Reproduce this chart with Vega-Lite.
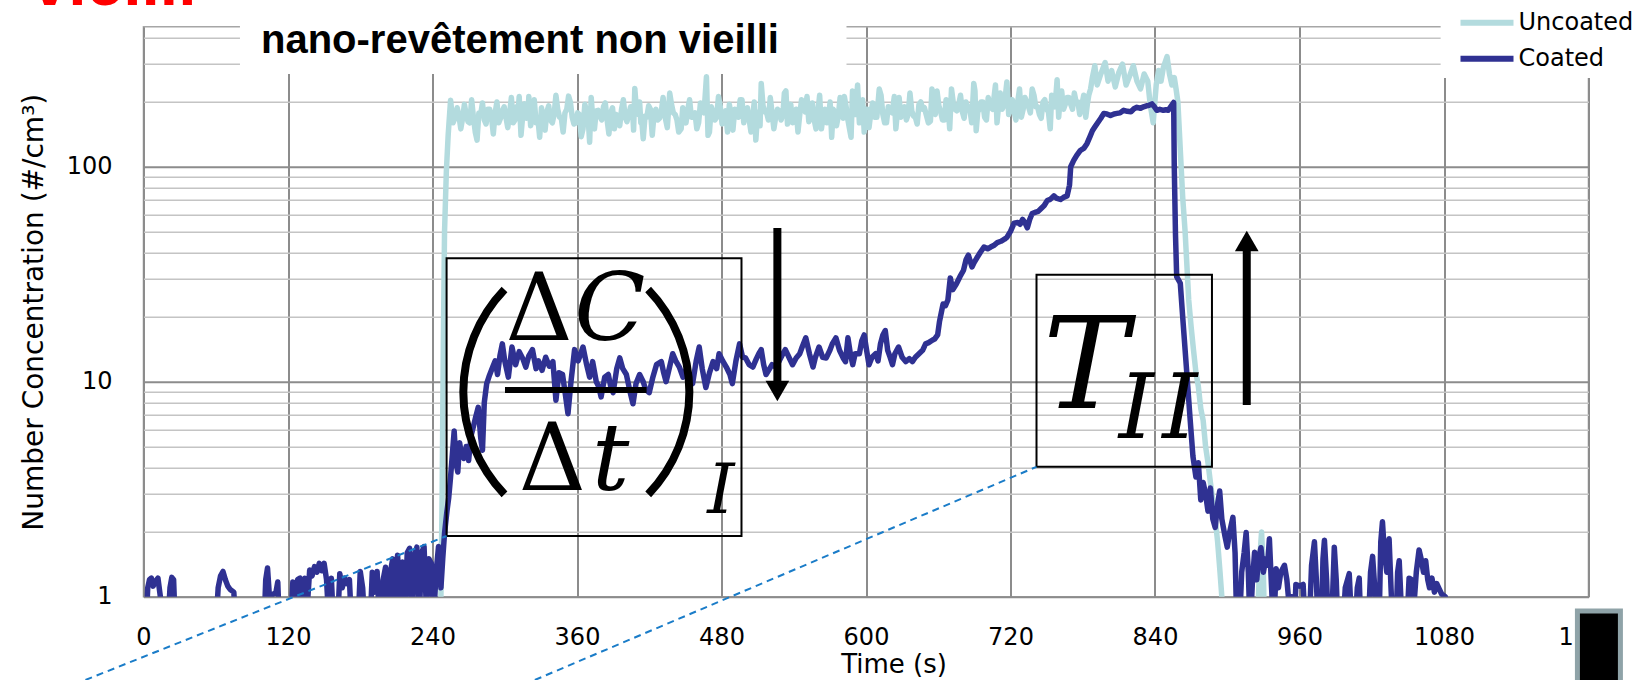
{
  "$schema": "https://vega.github.io/schema/vega-lite/v6.json",
  "width": 1445,
  "height": 570,
  "autosize": {"type": "none"},
  "padding": {"left": 143.5, "top": 26.7, "right": 56.5, "bottom": 83.3},
  "background": "white",
  "config": {"view": {"stroke": "#a6a6a6", "strokeWidth": 1.6}},
  "datasets": {
    "uncoated": [
      {"time":245,"conc":0.7},{"time":247,"conc":1.0},{"time":248,"conc":3},{"time":249,"conc":15},{"time":250,"conc":50},{"time":251.5,"conc":95},{"time":253,"conc":140},{"time":255,"conc":204},
      {"time":257,"conc":160},{"time":259,"conc":170},{"time":262,"conc":172},{"time":265,"conc":168},{"time":268,"conc":175},{"time":271,"conc":160},{"time":274,"conc":170},{"time":277,"conc":133},{"time":280,"conc":175},{"time":283,"conc":165},{"time":286,"conc":185},{"time":289,"conc":170},{"time":292,"conc":178},{"time":295,"conc":160},{"time":298,"conc":182},{"time":301,"conc":170},{"time":304,"conc":176},{"time":307,"conc":160},{"time":310,"conc":190},{"time":312,"conc":212},{"time":315,"conc":175},{"time":318,"conc":168},{"time":320,"conc":212},{"time":323,"conc":170},{"time":326,"conc":160},{"time":329,"conc":137},{"time":332,"conc":170},{"time":335,"conc":180},{"time":338,"conc":165},{"time":341,"conc":175},{"time":344,"conc":185},{"time":347,"conc":168},{"time":350,"conc":178},{"time":353,"conc":213},{"time":356,"conc":170},{"time":359,"conc":160},{"time":362,"conc":175},{"time":365,"conc":150},{"time":368,"conc":180},{"time":370.5,"conc":130},{"time":373,"conc":170},{"time":376,"conc":182},{"time":379,"conc":172},{"time":382,"conc":190},{"time":385,"conc":165},{"time":388,"conc":178},{"time":391,"conc":150},{"time":394,"conc":172},{"time":397,"conc":185},{"time":400,"conc":170},{"time":403,"conc":175},{"time":406,"conc":190},{"time":408,"conc":231},{"time":411,"conc":175},{"time":413,"conc":160},{"time":415,"conc":135},{"time":418,"conc":170},{"time":421,"conc":185},{"time":424,"conc":176},{"time":427,"conc":165},{"time":430,"conc":180},{"time":433,"conc":172},{"time":437,"conc":220},{"time":440,"conc":178},{"time":443,"conc":165},{"time":446.5,"conc":150},{"time":449,"conc":175},{"time":452,"conc":185},{"time":455,"conc":170},{"time":458,"conc":178},{"time":461,"conc":160},{"time":464,"conc":185},{"time":467.5,"conc":262},{"time":470,"conc":145},{"time":473,"conc":180},{"time":476,"conc":170},{"time":479,"conc":190},{"time":482,"conc":168},{"time":485,"conc":145},{"time":488,"conc":175},{"time":491,"conc":185},{"time":494,"conc":170},{"time":497,"conc":205},{"time":500,"conc":180},{"time":503,"conc":165},{"time":506,"conc":172},{"time":508.5,"conc":133},{"time":511,"conc":180},{"time":513,"conc":244},{"time":516,"conc":180},{"time":519,"conc":165},{"time":522,"conc":178},{"time":525,"conc":170},{"time":528,"conc":182},{"time":531,"conc":175},{"time":533.5,"conc":225},{"time":536,"conc":172},{"time":539,"conc":160},{"time":542,"conc":185},{"time":545,"conc":175},{"time":548,"conc":190},{"time":551,"conc":212},{"time":554,"conc":170},{"time":557,"conc":165},{"time":560,"conc":178},{"time":563,"conc":150},{"time":566,"conc":185},{"time":569,"conc":175},{"time":571.5,"conc":137},{"time":574,"conc":180},{"time":577,"conc":172},{"time":580,"conc":190},{"time":582,"conc":212},{"time":585,"conc":165},{"time":587.6,"conc":137},{"time":590,"conc":175},{"time":593,"conc":240},{"time":596,"conc":170},{"time":598.5,"conc":145},{"time":601,"conc":185},{"time":604,"conc":178},{"time":607,"conc":170},{"time":611,"conc":230},{"time":614,"conc":175},{"time":617,"conc":160},{"time":620,"conc":185},{"time":623.5,"conc":212},{"time":626,"conc":178},{"time":629,"conc":170},{"time":632,"conc":190},{"time":635,"conc":175},{"time":638,"conc":182},{"time":641,"conc":170},{"time":644,"conc":195},{"time":647,"conc":185},{"time":650,"conc":175},{"time":653.5,"conc":163},{"time":656,"conc":190},{"time":659,"conc":225},{"time":662,"conc":180},{"time":665,"conc":165},{"time":668,"conc":200},{"time":671,"conc":230},{"time":674,"conc":185},{"time":677,"conc":195},{"time":680,"conc":180},{"time":683,"conc":200},{"time":686,"conc":190},{"time":689.5,"conc":244},{"time":691.5,"conc":147},{"time":694,"conc":185},{"time":697,"conc":200},{"time":700,"conc":165},{"time":703,"conc":190},{"time":707.5,"conc":240},{"time":710,"conc":190},{"time":713,"conc":185},{"time":717,"conc":248},{"time":720,"conc":195},{"time":723,"conc":180},{"time":726,"conc":200},{"time":729,"conc":170},{"time":732,"conc":210},{"time":735,"conc":190},{"time":738,"conc":230},{"time":741,"conc":190},{"time":744,"conc":175},{"time":747,"conc":200},{"time":750,"conc":185},{"time":753,"conc":150},{"time":755.5,"conc":200},{"time":758.7,"conc":254},{"time":761,"conc":200},{"time":764,"conc":185},{"time":767,"conc":210},{"time":770,"conc":195},{"time":773,"conc":220},{"time":776,"conc":200},{"time":779,"conc":190},{"time":782.5,"conc":170},{"time":785,"conc":215},{"time":788,"conc":260},{"time":790,"conc":295},{"time":792,"conc":240},{"time":795,"conc":270},{"time":798.6,"conc":305},{"time":801,"conc":250},{"time":804,"conc":280},{"time":807,"conc":235},{"time":810,"conc":275},{"time":813,"conc":300},{"time":816,"conc":240},{"time":819,"conc":265},{"time":822,"conc":295},{"time":825,"conc":250},{"time":828,"conc":230},{"time":831,"conc":270},{"time":834,"conc":250},{"time":836,"conc":195},{"time":838.5,"conc":160},{"time":841,"conc":240},{"time":843,"conc":280},{"time":845,"conc":250},{"time":847,"conc":290},{"time":850,"conc":325},{"time":852,"conc":270},{"time":854,"conc":240},{"time":856,"conc":260},{"time":857.5,"conc":230},{"time":859,"conc":200},{"time":861,"conc":120},{"time":863,"conc":72},{"time":865,"conc":50},{"time":868,"conc":24},{"time":870,"conc":18},{"time":872,"conc":14},{"time":874,"conc":11},{"time":876,"conc":9.5},{"time":878,"conc":7.5},{"time":880,"conc":6.6},{"time":882,"conc":5},{"time":884,"conc":4.2},{"time":886,"conc":3.4},{"time":888,"conc":2.8},{"time":890,"conc":2.3},{"time":892,"conc":1.8},{"time":894,"conc":1.3},{"time":895.5,"conc":1.0},{"time":897,"conc":0.7},{"time":925,"conc":0.7},{"time":927,"conc":1.5},{"time":928.5,"conc":2.0},{"time":930,"conc":1.3},{"time":931,"conc":0.7},
      {"time":260.5,"conc":188},{"time":263.5,"conc":150},{"time":266.5,"conc":195},{"time":269.5,"conc":162},{"time":272.5,"conc":205},{"time":275.5,"conc":145},{"time":278.5,"conc":178},{"time":281.5,"conc":198},{"time":284.5,"conc":158},{"time":287.5,"conc":185},{"time":290.5,"conc":142},{"time":293.5,"conc":200},{"time":296.5,"conc":168},{"time":299.5,"conc":190},{"time":302.5,"conc":152},{"time":305.5,"conc":210},{"time":308.5,"conc":165},{"time":311.2,"conc":182},{"time":313.5,"conc":140},{"time":316.5,"conc":196},{"time":319.2,"conc":172},{"time":321.5,"conc":155},{"time":324.5,"conc":205},{"time":327.5,"conc":168},{"time":330.5,"conc":188},{"time":333.5,"conc":148},{"time":336.5,"conc":192},{"time":339.5,"conc":160},{"time":342.5,"conc":215},{"time":345.5,"conc":170},
      {"time":348.5,"conc":145},{"time":351.5,"conc":185},{"time":354.5,"conc":200},{"time":357.5,"conc":158},{"time":360.5,"conc":178},{"time":363.5,"conc":138},{"time":366.5,"conc":195},{"time":369.2,"conc":170},{"time":371.8,"conc":210},{"time":374.5,"conc":150},{"time":377.5,"conc":183},{"time":380.5,"conc":165},{"time":383.5,"conc":198},{"time":386.5,"conc":142},{"time":389.5,"conc":188},{"time":392.5,"conc":175},{"time":395.5,"conc":155},{"time":398.5,"conc":205},{"time":401.5,"conc":162},{"time":404.5,"conc":190},{"time":407,"conc":148},{"time":409.5,"conc":180},{"time":412,"conc":200},{"time":414,"conc":158},{"time":416.5,"conc":172},{"time":419.5,"conc":192},{"time":422.5,"conc":140},{"time":425.5,"conc":185},{"time":428.5,"conc":168},{"time":431.5,"conc":210},
      {"time":435,"conc":152},{"time":438.5,"conc":195},{"time":441.5,"conc":175},{"time":444.5,"conc":145},{"time":447.8,"conc":188},{"time":450.5,"conc":160},{"time":453.5,"conc":205},{"time":456.5,"conc":170},{"time":459.5,"conc":150},{"time":462.5,"conc":198},{"time":465.5,"conc":178},{"time":468.8,"conc":140},{"time":471.5,"conc":190},{"time":474.5,"conc":165},{"time":477.5,"conc":212},{"time":480.5,"conc":158},{"time":483.5,"conc":182},{"time":486.5,"conc":195},{"time":489.5,"conc":148},{"time":492.5,"conc":175},{"time":495.5,"conc":205},{"time":498.5,"conc":160},{"time":501.5,"conc":188},{"time":504.5,"conc":145},{"time":507.2,"conc":200},{"time":509.8,"conc":170},{"time":512,"conc":155},{"time":514.5,"conc":192},{"time":517.5,"conc":178},{"time":520.5,"conc":210},
      {"time":523.5,"conc":150},{"time":526.5,"conc":185},{"time":529.5,"conc":165},{"time":532.2,"conc":220},{"time":534.8,"conc":158},{"time":537.5,"conc":195},{"time":540.5,"conc":172},{"time":543.5,"conc":145},{"time":546.5,"conc":205},{"time":549.5,"conc":180},{"time":552.5,"conc":162},{"time":555.5,"conc":198},{"time":558.5,"conc":150},{"time":561.5,"conc":215},{"time":564.5,"conc":175},{"time":567.5,"conc":160},{"time":570.2,"conc":200},{"time":572.8,"conc":185},{"time":575.5,"conc":155},{"time":578.5,"conc":210},{"time":581,"conc":168},{"time":583.5,"conc":190},{"time":586.3,"conc":150},{"time":588.8,"conc":225},{"time":591.5,"conc":175},{"time":594.5,"conc":160},{"time":597.2,"conc":205},{"time":599.8,"conc":185},{"time":602.5,"conc":152},{"time":605.5,"conc":198},
      {"time":609,"conc":170},{"time":612.5,"conc":215},{"time":615.5,"conc":160},{"time":618.5,"conc":190},{"time":621.8,"conc":178},{"time":624.8,"conc":150},{"time":627.5,"conc":210},{"time":630.5,"conc":185},{"time":633.5,"conc":165},{"time":636.5,"conc":220},{"time":639.5,"conc":172},{"time":642.5,"conc":158},{"time":645.5,"conc":200},{"time":648.5,"conc":188},{"time":651.8,"conc":160},{"time":654.8,"conc":230},{"time":657.5,"conc":175},{"time":660.5,"conc":192},{"time":663.5,"conc":165},{"time":666.5,"conc":205},{"time":669.5,"conc":150},{"time":672.5,"conc":198},{"time":675.5,"conc":182},{"time":678.5,"conc":215},{"time":681.5,"conc":168},{"time":684.5,"conc":190},{"time":687.8,"conc":160},{"time":690.5,"conc":225},{"time":692.8,"conc":180},{"time":695.5,"conc":200},
      {"time":698.5,"conc":170},{"time":701.5,"conc":210},{"time":705.2,"conc":185},{"time":708.8,"conc":160},{"time":711.5,"conc":220},{"time":715,"conc":195},{"time":718.5,"conc":175},{"time":721.5,"conc":205},{"time":724.5,"conc":165},{"time":727.5,"conc":230},{"time":730.5,"conc":185},{"time":733.5,"conc":200},{"time":736.5,"conc":178},{"time":739.5,"conc":215},{"time":742.5,"conc":190},{"time":745.5,"conc":168},{"time":748.5,"conc":205},{"time":751.5,"conc":180},{"time":754.2,"conc":215},{"time":757,"conc":190},{"time":760,"conc":170},{"time":762.5,"conc":225},{"time":765.5,"conc":195},{"time":768.5,"conc":210},{"time":771.5,"conc":185},{"time":774.5,"conc":200},{"time":777.5,"conc":175},{"time":780.8,"conc":215},{"time":783.8,"conc":195},{"time":786.5,"conc":230}
    ],
    "coated": [
      {"time":0,"conc":0.7},{"time":2,"conc":0.7},{"time":3.5,"conc":1.1},{"time":5,"conc":1.2},{"time":6.5,"conc":1.22},{"time":8,"conc":1.12},{"time":10,"conc":1.18},{"time":12,"conc":1.22},{"time":14,"conc":1.0},{"time":16,"conc":0.7},{"time":20,"conc":0.7},{"time":22,"conc":1.1},{"time":23.5,"conc":1.23},{"time":25,"conc":1.2},{"time":26.5,"conc":0.7},{"time":60,"conc":0.7},{"time":62,"conc":1.1},{"time":64,"conc":1.25},{"time":66,"conc":1.31},{"time":68,"conc":1.2},{"time":70,"conc":1.12},{"time":72,"conc":1.08},{"time":75,"conc":1.05},{"time":77,"conc":0.7},{"time":100,"conc":0.7},{"time":101.5,"conc":1.2},{"time":103,"conc":1.36},{"time":104.5,"conc":1.02},{"time":107,"conc":1.02},{"time":110,"conc":1.05},{"time":111.5,"conc":1.17},{"time":113,"conc":0.7},{"time":122,"conc":0.7},{"time":124,"conc":1.17},{"time":126,"conc":0.8},{"time":128,"conc":1.2},{"time":130,"conc":1.22},{"time":132,"conc":0.75},{"time":134,"conc":1.22},{"time":136,"conc":0.9},{"time":138,"conc":1.33},{"time":140,"conc":1.25},{"time":142,"conc":1.38},{"time":144,"conc":1.3},{"time":146,"conc":1.43},{"time":148,"conc":1.32},{"time":150,"conc":1.43},{"time":152,"conc":1.2},{"time":154,"conc":0.75},{"time":156,"conc":1.22},{"time":158,"conc":0.7},{"time":161,"conc":0.7},{"time":163,"conc":1.28},{"time":165,"conc":1.1},{"time":167,"conc":1.22},{"time":169,"conc":1.15},{"time":171,"conc":1.2},{"time":173,"conc":0.7},{"time":178,"conc":0.7},{"time":180,"conc":1.31},{"time":182,"conc":1.1},{"time":184,"conc":0.7},{"time":188,"conc":0.7},{"time":190,"conc":1.3},{"time":192,"conc":1.05},{"time":194,"conc":1.31},{"time":196,"conc":0.75},{"time":199,"conc":1.2},{"time":201,"conc":1.37},{"time":203,"conc":0.8},{"time":205,"conc":1.3},{"time":207,"conc":1.5},{"time":209,"conc":0.8},{"time":211,"conc":1.56},{"time":213,"conc":1.0},{"time":215,"conc":1.45},{"time":217,"conc":0.75},{"time":219,"conc":1.6},{"time":221,"conc":1.68},{"time":223,"conc":0.8},{"time":225,"conc":1.55},{"time":227,"conc":1.7},{"time":229,"conc":0.8},{"time":231,"conc":1.6},{"time":233,"conc":1.71},{"time":235,"conc":0.85},{"time":237,"conc":1.5},{"time":239,"conc":1.43},{"time":241,"conc":0.8},{"time":243,"conc":1.3},{"time":245,"conc":1.71},{"time":247,"conc":1.1},{"time":248.5,"conc":1.5},{"time":250,"conc":1.97},{"time":252,"conc":2.5},{"time":253.5,"conc":2.9},{"time":255,"conc":3.6},{"time":256.5,"conc":4.6},{"time":258,"conc":5.9},{"time":259.5,"conc":4.2},{"time":261,"conc":3.8},{"time":262.5,"conc":5.2},{"time":264,"conc":4.6},{"time":266,"conc":4.4},{"time":268,"conc":5.0},{"time":270,"conc":4.3},{"time":272,"conc":5.6},{"time":274,"conc":6.2},{"time":276,"conc":6.9},{"time":278,"conc":7.6},{"time":280,"conc":5.5},{"time":281.5,"conc":4.8},{"time":283,"conc":8.0},{"time":285,"conc":9.8},{"time":287,"conc":10.6},{"time":290,"conc":11.7},{"time":292,"conc":12.5},{"time":294,"conc":10.8},{"time":296,"conc":13.2},{"time":298,"conc":15.0},{"time":300,"conc":12.5},{"time":303,"conc":10.5},{"time":306,"conc":14.5},{"time":309,"conc":12.0},{"time":312,"conc":13.8},{"time":315,"conc":12.8},{"time":317.5,"conc":11.7},{"time":320,"conc":13.2},{"time":323,"conc":14.1},{"time":326,"conc":11.5},{"time":328,"conc":12.5},{"time":331,"conc":11.3},{"time":334,"conc":13.0},{"time":337,"conc":11.8},{"time":340,"conc":12.4},{"time":342.5,"conc":8.2},{"time":345,"conc":11.0},{"time":348,"conc":10.8},{"time":350,"conc":9.0},{"time":352.5,"conc":7.1},{"time":355,"conc":10.0},{"time":358,"conc":14.1},{"time":361,"conc":12.5},{"time":365,"conc":14.5},{"time":368,"conc":12.0},{"time":370.5,"conc":10.5},{"time":373,"conc":12.4},{"time":376,"conc":10.0},{"time":378,"conc":9.5},{"time":380,"conc":8.5},{"time":383,"conc":10.5},{"time":386,"conc":10.8},{"time":388,"conc":9.5},{"time":390,"conc":8.9},{"time":393,"conc":11.5},{"time":395.5,"conc":12.9},{"time":398,"conc":11.5},{"time":401,"conc":10.8},{"time":404,"conc":9.0},{"time":406.5,"conc":7.9},{"time":409,"conc":9.8},{"time":412,"conc":10.8},{"time":415,"conc":10.0},{"time":417,"conc":9.2},{"time":420,"conc":8.9},{"time":423,"conc":10.5},{"time":426,"conc":12.0},{"time":430,"conc":12.4},{"time":432,"conc":11.0},{"time":434,"conc":10.0},{"time":437,"conc":11.8},{"time":439.5,"conc":13.5},{"time":442,"conc":12.5},{"time":445,"conc":11.7},{"time":448,"conc":10.5},{"time":451,"conc":11.5},{"time":453,"conc":10.0},{"time":456,"conc":9.8},{"time":459,"conc":12.5},{"time":461.5,"conc":14.5},{"time":464,"conc":11.5},{"time":467,"conc":9.4},{"time":470,"conc":11.0},{"time":473,"conc":12.4},{"time":476,"conc":11.5},{"time":478,"conc":13.5},{"time":481,"conc":12.5},{"time":484,"conc":11.7},{"time":487,"conc":10.8},{"time":489,"conc":9.8},{"time":492,"conc":12.5},{"time":495,"conc":15.0},{"time":497.5,"conc":13.0},{"time":500,"conc":12.9},{"time":503,"conc":12.0},{"time":506,"conc":11.7},{"time":509,"conc":12.8},{"time":511,"conc":13.5},{"time":513,"conc":14.1},{"time":515,"conc":12.0},{"time":517,"conc":10.8},{"time":520,"conc":11.5},{"time":522,"conc":12.0},{"time":525,"conc":11.7},{"time":528,"conc":12.5},{"time":531,"conc":13.5},{"time":533,"conc":14.1},{"time":536,"conc":13.0},{"time":539,"conc":12.0},{"time":542,"conc":12.9},{"time":545,"conc":13.5},{"time":547,"conc":14.5},{"time":550,"conc":16.0},{"time":553,"conc":13.5},{"time":556,"conc":11.7},{"time":558,"conc":13.0},{"time":561,"conc":14.5},{"time":564,"conc":13.0},{"time":567,"conc":12.9},{"time":570,"conc":14.0},{"time":572,"conc":15.0},{"time":575,"conc":16.0},{"time":578,"conc":14.0},{"time":581,"conc":12.9},{"time":583,"conc":12.4},{"time":585,"conc":16.0},{"time":587,"conc":13.5},{"time":589,"conc":12.0},{"time":591,"conc":13.5},{"time":594.5,"conc":13.5},{"time":596.5,"conc":15.5},{"time":598.5,"conc":16.5},{"time":600.5,"conc":14.0},{"time":602.5,"conc":12.0},{"time":605,"conc":13.0},{"time":608,"conc":13.5},{"time":610,"conc":12.5},{"time":612,"conc":15.0},{"time":614,"conc":16.5},{"time":616,"conc":17.3},{"time":618,"conc":14.0},{"time":620,"conc":13.0},{"time":622,"conc":12.0},{"time":624,"conc":13.5},{"time":627,"conc":14.5},{"time":630,"conc":13.0},{"time":633,"conc":12.4},{"time":636,"conc":12.8},{"time":638.5,"conc":12.4},{"time":641,"conc":13.0},{"time":644,"conc":13.5},{"time":647,"conc":14.0},{"time":649.5,"conc":15.0},{"time":652,"conc":15.2},{"time":655,"conc":15.6},{"time":657,"conc":15.8},{"time":659.5,"conc":16.5},{"time":661,"conc":19.0},{"time":662.5,"conc":20.9},{"time":664,"conc":23.0},{"time":666,"conc":22.6},{"time":668,"conc":24.0},{"time":670,"conc":30.4},{"time":672,"conc":26.8},{"time":675,"conc":28.5},{"time":678,"conc":30.8},{"time":681,"conc":33.0},{"time":683,"conc":36.8},{"time":685,"conc":38.8},{"time":688,"conc":34.2},{"time":690,"conc":36.0},{"time":692,"conc":37.6},{"time":695,"conc":40.0},{"time":698,"conc":42.3},{"time":701,"conc":41.5},{"time":703.5,"conc":42.3},{"time":706,"conc":43.0},{"time":709,"conc":44.4},{"time":712,"conc":45.0},{"time":715,"conc":46.0},{"time":717,"conc":46.9},{"time":720,"conc":50.0},{"time":723,"conc":54.6},{"time":726,"conc":55.0},{"time":728,"conc":54.0},{"time":730,"conc":56.9},{"time":732,"conc":55.0},{"time":734,"conc":52.0},{"time":736,"conc":57.0},{"time":738,"conc":60.6},{"time":741,"conc":61.5},{"time":743,"conc":62.0},{"time":745,"conc":63.6},{"time":748,"conc":66.0},{"time":750.5,"conc":69.6},{"time":753,"conc":70.5},{"time":756,"conc":73.2},{"time":758,"conc":71.5},{"time":761.5,"conc":70.4},{"time":764,"conc":72.0},{"time":767,"conc":73.2},{"time":769,"conc":82.0},{"time":770,"conc":100},{"time":772.5,"conc":107},{"time":775,"conc":113},{"time":778,"conc":119},{"time":781,"conc":122},{"time":783.5,"conc":128},{"time":786,"conc":138},{"time":788,"conc":147},{"time":790,"conc":153},{"time":792,"conc":159},{"time":795,"conc":168},{"time":797.5,"conc":177},{"time":800,"conc":176},{"time":803,"conc":173},{"time":806,"conc":176},{"time":808.5,"conc":177},{"time":811,"conc":178},{"time":814,"conc":183},{"time":817,"conc":181},{"time":820,"conc":180},{"time":822.5,"conc":186},{"time":825,"conc":189},{"time":828,"conc":187},{"time":830.5,"conc":190},{"time":833,"conc":192},{"time":835,"conc":193},{"time":837.5,"conc":196},{"time":839.5,"conc":190},{"time":841.5,"conc":183},{"time":844,"conc":185},{"time":847,"conc":183},{"time":849,"conc":184},{"time":851,"conc":183},{"time":853,"conc":190},{"time":855.5,"conc":199},{"time":856,"conc":100},{"time":857,"conc":48.8},{"time":858,"conc":30.8},{"time":861,"conc":28.7},{"time":863,"conc":20},{"time":866,"conc":11.8},{"time":869,"conc":6.9},{"time":871.5,"conc":4.5},{"time":874,"conc":3.6},{"time":876,"conc":4.2},{"time":878,"conc":2.82},{"time":880,"conc":3.4},{"time":882,"conc":3.0},{"time":884,"conc":2.5},{"time":886,"conc":3.2},{"time":888,"conc":2.3},{"time":890,"conc":2.1},{"time":892,"conc":2.7},{"time":893.7,"conc":3.1},{"time":895.5,"conc":2.3},{"time":897.9,"conc":1.94},{"time":900,"conc":1.7},{"time":902,"conc":2.0},{"time":904.7,"conc":2.34},{"time":906.5,"conc":1.6},{"time":908,"conc":0.7},{"time":910,"conc":0.7},{"time":912,"conc":1.3},{"time":914,"conc":1.6},{"time":915.7,"conc":1.99},{"time":917.5,"conc":1.3},{"time":919,"conc":0.7},{"time":921,"conc":1.2},{"time":922.7,"conc":1.61},{"time":924.5,"conc":1.2},{"time":926,"conc":1.5},{"time":928,"conc":1.69},{"time":930,"conc":1.3},{"time":932,"conc":1.5},{"time":933.5,"conc":1.4},{"time":935,"conc":1.86},{"time":936.5,"conc":1.2},{"time":938.5,"conc":0.7},{"time":940.6,"conc":1.35},{"time":942.5,"conc":1.1},{"time":944.5,"conc":1.3},{"time":947.5,"conc":1.4},{"time":949.5,"conc":1.2},{"time":951.5,"conc":0.9},{"time":953.5,"conc":1.0},{"time":955.5,"conc":0.7},{"time":957,"conc":1.14},{"time":960,"conc":1.12},{"time":963,"conc":1.14},{"time":965,"conc":0.7},{"time":968,"conc":0.7},{"time":970,"conc":1.4},{"time":972.4,"conc":1.8},{"time":974,"conc":1.2},{"time":975.5,"conc":0.7},{"time":978,"conc":0.7},{"time":979.5,"conc":1.5},{"time":980.7,"conc":1.83},{"time":982.5,"conc":1.2},{"time":984,"conc":0.7},{"time":986.5,"conc":0.7},{"time":988.9,"conc":1.7},{"time":990.5,"conc":1.2},{"time":992,"conc":0.7},{"time":996,"conc":0.7},{"time":998,"conc":1.1},{"time":1001.3,"conc":1.28},{"time":1003,"conc":0.8},{"time":1006,"conc":0.7},{"time":1008,"conc":1.1},{"time":1009.6,"conc":1.22},{"time":1011,"conc":0.7},{"time":1017,"conc":0.7},{"time":1019,"conc":1.3},{"time":1020.7,"conc":1.54},{"time":1022.5,"conc":1.1},{"time":1024,"conc":0.7},{"time":1026,"conc":0.7},{"time":1027.5,"conc":1.8},{"time":1028.9,"conc":2.23},{"time":1030.5,"conc":1.6},{"time":1032.5,"conc":1.3},{"time":1034.4,"conc":1.86},{"time":1036,"conc":1.1},{"time":1037.5,"conc":0.7},{"time":1040,"conc":0.7},{"time":1041.5,"conc":1.3},{"time":1042.8,"conc":1.47},{"time":1044.5,"conc":0.9},{"time":1046,"conc":0.7},{"time":1049,"conc":0.7},{"time":1051,"conc":1.22},{"time":1053,"conc":1.2},{"time":1055,"conc":0.9},{"time":1057,"conc":1.3},{"time":1059.3,"conc":1.65},{"time":1061,"conc":1.5},{"time":1063,"conc":1.3},{"time":1064.8,"conc":1.47},{"time":1066.5,"conc":1.2},{"time":1068,"conc":1.1},{"time":1070,"conc":1.22},{"time":1072,"conc":1.05},{"time":1074,"conc":1.15},{"time":1075.9,"conc":1.09},{"time":1078,"conc":1.03},{"time":1081,"conc":1.0}
    ],
    "whiteBoxes": [
      {"time":80.1,"time2":583.8,"conc":270,"conc2":800},
      {"time":1077.2,"time2":1300,"conc":258.5,"conc2":800}
    ],
    "frames": [
      {"time":251.7,"time2":496.6,"conc":1.915,"conc2":37.5},
      {"time":741.6,"time2":887.3,"conc":4.02,"conc2":31.4}
    ],
    "leaders": [
      {"leader":"a","time":-48.2,"conc":0.41},{"leader":"a","time":251.7,"conc":1.915},
      {"leader":"b","time":325,"conc":0.41},{"leader":"b","time":741.6,"conc":4.02}
    ],
    "shafts": [
      {"time":526.4,"conc":51.9,"conc2":9.65},
      {"time":916.2,"conc":40.9,"conc2":7.79}
    ],
    "headsDown": [{"time":526.4,"conc":9.05}],
    "headsUp": [{"time":916.2,"conc":45.1}],
    "fractionBar": [{"time":300.2,"time2":417.8,"conc":9.15}],
    "parenLeft": [{"time":388.5,"conc":8.96}],
    "parenRight": [{"time":330.4,"conc":8.96}],
    "uprightGlyphs": [
      {"label":"Δ","time":328.5,"conc":15.63},
      {"label":"Δ","time":339.6,"conc":3.135}
    ],
    "italicGlyphs": [
      {"label":"C","time":387.3,"conc":15.63},
      {"label":"t","time":388.0,"conc":3.135}
    ],
    "bigT": [{"label":"T","time":782.5,"conc":7.52}],
    "midI": [{"label":"I","time":824.4,"conc":5.46},{"label":"I","time":860.6,"conc":5.46}],
    "smallI": [{"label":"I","time":479.4,"conc":2.44}],
    "heading": [{"label":"nano-revêtement non vieilli","time":312.6,"conc":336.9}],
    "redHeading": [{"label":"vieilli","time":-24.5,"conc":565}],
    "blackBox": [{"time":1190.8,"time2":1226.5,"conc":0.858,"conc2":0.331}]
  },
  "layer": [
    {
      "data": {"name": "whiteBoxes"},
      "mark": {"type": "rect", "fill": "white", "clip": false},
      "encoding": {
        "x": {"field": "time", "type": "quantitative", "scale": {"domain": [0, 1200], "nice": false, "zero": false},
          "axis": {"orient": "bottom", "values": [0,120,240,360,480,600,720,840,960,1080,1200], "format": "d", "grid": true, "gridColor": "#8c8c8c", "gridWidth": 2, "ticks": false, "domain": false, "labelFlush": false, "labelOverlap": false, "labelPadding": 29, "labelFont": "DejaVu Sans", "labelFontSize": 24, "labelColor": "black", "title": "Time (s)", "titleFont": "DejaVu Sans", "titleFontSize": 26, "titleFontWeight": "normal", "titleColor": "black", "titleX": 750, "titleY": 76, "titleAlign": "center", "titleBaseline": "alphabetic"}},
        "x2": {"field": "time2"},
        "y": {"field": "conc", "type": "quantitative", "scale": {"type": "log", "domain": [1, 448], "nice": false},
          "axis": {"orient": "left", "values": [1,2,3,4,5,6,7,8,9,10,20,30,40,50,60,70,80,90,100,200,300,400], "grid": true,
            "gridColor": {"condition": {"test": "datum.value == 1 || datum.value == 10 || datum.value == 100", "value": "#8c8c8c"}, "value": "#c4c4c4"},
            "gridWidth": {"condition": {"test": "datum.value == 1 || datum.value == 10 || datum.value == 100", "value": 2}, "value": 1.6},
            "labelExpr": "(datum.value == 1 || datum.value == 10 || datum.value == 100) ? format(datum.value, 'd') : ''",
            "ticks": false, "domain": false, "labelOverlap": false, "labelPadding": 31.5, "labelFont": "DejaVu Sans", "labelFontSize": 24, "labelColor": "black", "title": "Number Concentration (#/cm³)", "titleFont": "DejaVu Sans", "titleFontSize": 28, "titleFontWeight": "normal", "titleColor": "black", "titleAngle": 270, "titleX": -101.5, "titleY": 285, "titleAlign": "center", "titleBaseline": "alphabetic"}},
        "y2": {"field": "conc2"}
      }
    },
    {
      "data": {"name": "uncoated"},
      "mark": {"type": "line", "strokeWidth": 5.5, "clip": true, "strokeJoin": "round", "strokeCap": "round"},
      "encoding": {
        "x": {"field": "time", "type": "quantitative", "scale": {"domain": [0, 1200], "nice": false, "zero": false}},
        "y": {"field": "conc", "type": "quantitative", "scale": {"type": "log", "domain": [1, 448], "nice": false}},
        "color": {"datum": "Uncoated", "type": "nominal", "scale": {"domain": ["Uncoated", "Coated"], "range": ["#b3dbde", "#2f3192"]},
          "legend": {"orient": "none", "legendX": 1314, "legendY": -16, "title": null, "symbolType": "stroke", "symbolSize": 2809, "symbolStrokeWidth": 6, "labelFont": "DejaVu Sans", "labelFontSize": 24, "labelColor": "black", "clipHeight": 24, "rowPadding": 12, "labelOffset": 2, "padding": 0}}
      }
    },
    {
      "data": {"name": "coated"},
      "mark": {"type": "line", "strokeWidth": 5.5, "clip": true, "strokeJoin": "round", "strokeCap": "round"},
      "encoding": {
        "x": {"field": "time", "type": "quantitative", "scale": {"domain": [0, 1200], "nice": false, "zero": false}},
        "y": {"field": "conc", "type": "quantitative", "scale": {"type": "log", "domain": [1, 448], "nice": false}},
        "color": {"datum": "Coated", "type": "nominal", "scale": {"domain": ["Uncoated", "Coated"], "range": ["#b3dbde", "#2f3192"]},
          "legend": {"orient": "none", "legendX": 1314, "legendY": -16, "title": null, "symbolType": "stroke", "symbolSize": 2809, "symbolStrokeWidth": 6, "labelFont": "DejaVu Sans", "labelFontSize": 24, "labelColor": "black", "clipHeight": 24, "rowPadding": 12, "labelOffset": 2, "padding": 0}}
      }
    },
    {
      "data": {"name": "frames"},
      "mark": {"type": "rect", "fill": null, "fillOpacity": 0, "stroke": "black", "strokeWidth": 2, "clip": false},
      "encoding": {
        "x": {"field": "time", "type": "quantitative", "scale": {"domain": [0, 1200], "nice": false, "zero": false}},
        "x2": {"field": "time2"},
        "y": {"field": "conc", "type": "quantitative", "scale": {"type": "log", "domain": [1, 448], "nice": false}},
        "y2": {"field": "conc2"}
      }
    },
    {
      "data": {"name": "leaders"},
      "mark": {"type": "line", "color": "#1a7cc8", "strokeWidth": 2, "strokeDash": [7, 5], "clip": false},
      "encoding": {
        "x": {"field": "time", "type": "quantitative", "scale": {"domain": [0, 1200], "nice": false, "zero": false}},
        "y": {"field": "conc", "type": "quantitative", "scale": {"type": "log", "domain": [1, 448], "nice": false}},
        "detail": {"field": "leader", "type": "nominal"}
      }
    },
    {
      "data": {"name": "shafts"},
      "mark": {"type": "rule", "color": "black", "strokeWidth": 8, "clip": false},
      "encoding": {
        "x": {"field": "time", "type": "quantitative", "scale": {"domain": [0, 1200], "nice": false, "zero": false}},
        "y": {"field": "conc", "type": "quantitative", "scale": {"type": "log", "domain": [1, 448], "nice": false}},
        "y2": {"field": "conc2"}
      }
    },
    {
      "data": {"name": "headsDown"},
      "mark": {"type": "point", "shape": "triangle-down", "size": 560, "filled": true, "color": "black", "opacity": 1, "strokeWidth": 0, "clip": false},
      "encoding": {
        "x": {"field": "time", "type": "quantitative", "scale": {"domain": [0, 1200], "nice": false, "zero": false}},
        "y": {"field": "conc", "type": "quantitative", "scale": {"type": "log", "domain": [1, 448], "nice": false}}
      }
    },
    {
      "data": {"name": "headsUp"},
      "mark": {"type": "point", "shape": "triangle-up", "size": 560, "filled": true, "color": "black", "opacity": 1, "strokeWidth": 0, "clip": false},
      "encoding": {
        "x": {"field": "time", "type": "quantitative", "scale": {"domain": [0, 1200], "nice": false, "zero": false}},
        "y": {"field": "conc", "type": "quantitative", "scale": {"type": "log", "domain": [1, 448], "nice": false}}
      }
    },
    {
      "data": {"name": "fractionBar"},
      "mark": {"type": "rule", "color": "black", "strokeWidth": 6, "clip": false},
      "encoding": {
        "x": {"field": "time", "type": "quantitative", "scale": {"domain": [0, 1200], "nice": false, "zero": false}},
        "x2": {"field": "time2"},
        "y": {"field": "conc", "type": "quantitative", "scale": {"type": "log", "domain": [1, 448], "nice": false}}
      }
    },
    {
      "data": {"name": "parenLeft"},
      "mark": {"type": "arc", "radius": 152, "radius2": 144, "theta": 3.948, "theta2": 5.477, "fill": "black", "clip": false},
      "encoding": {
        "x": {"field": "time", "type": "quantitative", "scale": {"domain": [0, 1200], "nice": false, "zero": false}},
        "y": {"field": "conc", "type": "quantitative", "scale": {"type": "log", "domain": [1, 448], "nice": false}}
      }
    },
    {
      "data": {"name": "parenRight"},
      "mark": {"type": "arc", "radius": 152, "radius2": 144, "theta": 0.806, "theta2": 2.335, "fill": "black", "clip": false},
      "encoding": {
        "x": {"field": "time", "type": "quantitative", "scale": {"domain": [0, 1200], "nice": false, "zero": false}},
        "y": {"field": "conc", "type": "quantitative", "scale": {"type": "log", "domain": [1, 448], "nice": false}}
      }
    },
    {
      "data": {"name": "uprightGlyphs"},
      "mark": {"type": "text", "font": "DejaVu Serif", "fontSize": 93, "align": "center", "baseline": "alphabetic", "color": "black", "clip": false},
      "encoding": {
        "x": {"field": "time", "type": "quantitative", "scale": {"domain": [0, 1200], "nice": false, "zero": false}},
        "y": {"field": "conc", "type": "quantitative", "scale": {"type": "log", "domain": [1, 448], "nice": false}},
        "text": {"field": "label"}
      }
    },
    {
      "data": {"name": "italicGlyphs"},
      "mark": {"type": "text", "font": "DejaVu Serif", "fontStyle": "italic", "fontSize": 93, "align": "center", "baseline": "alphabetic", "color": "black", "clip": false},
      "encoding": {
        "x": {"field": "time", "type": "quantitative", "scale": {"domain": [0, 1200], "nice": false, "zero": false}},
        "y": {"field": "conc", "type": "quantitative", "scale": {"type": "log", "domain": [1, 448], "nice": false}},
        "text": {"field": "label"}
      }
    },
    {
      "data": {"name": "bigT"},
      "mark": {"type": "text", "font": "DejaVu Serif", "fontStyle": "italic", "fontSize": 128, "align": "center", "baseline": "alphabetic", "color": "black", "clip": false},
      "encoding": {
        "x": {"field": "time", "type": "quantitative", "scale": {"domain": [0, 1200], "nice": false, "zero": false}},
        "y": {"field": "conc", "type": "quantitative", "scale": {"type": "log", "domain": [1, 448], "nice": false}},
        "text": {"field": "label"}
      }
    },
    {
      "data": {"name": "midI"},
      "mark": {"type": "text", "font": "DejaVu Serif", "fontStyle": "italic", "fontSize": 89, "align": "center", "baseline": "alphabetic", "color": "black", "clip": false},
      "encoding": {
        "x": {"field": "time", "type": "quantitative", "scale": {"domain": [0, 1200], "nice": false, "zero": false}},
        "y": {"field": "conc", "type": "quantitative", "scale": {"type": "log", "domain": [1, 448], "nice": false}},
        "text": {"field": "label"}
      }
    },
    {
      "data": {"name": "smallI"},
      "mark": {"type": "text", "font": "DejaVu Serif", "fontStyle": "italic", "fontSize": 69, "align": "center", "baseline": "alphabetic", "color": "black", "clip": false},
      "encoding": {
        "x": {"field": "time", "type": "quantitative", "scale": {"domain": [0, 1200], "nice": false, "zero": false}},
        "y": {"field": "conc", "type": "quantitative", "scale": {"type": "log", "domain": [1, 448], "nice": false}},
        "text": {"field": "label"}
      }
    },
    {
      "data": {"name": "heading"},
      "mark": {"type": "text", "font": "Liberation Sans", "fontWeight": "bold", "fontSize": 40, "align": "center", "baseline": "alphabetic", "color": "black", "clip": false},
      "encoding": {
        "x": {"field": "time", "type": "quantitative", "scale": {"domain": [0, 1200], "nice": false, "zero": false}},
        "y": {"field": "conc", "type": "quantitative", "scale": {"type": "log", "domain": [1, 448], "nice": false}},
        "text": {"field": "label"}
      }
    },
    {
      "data": {"name": "redHeading"},
      "mark": {"type": "text", "font": "Liberation Sans", "fontWeight": "bold", "fontSize": 66, "align": "center", "baseline": "alphabetic", "color": "#ff0000", "clip": false},
      "encoding": {
        "x": {"field": "time", "type": "quantitative", "scale": {"domain": [0, 1200], "nice": false, "zero": false}},
        "y": {"field": "conc", "type": "quantitative", "scale": {"type": "log", "domain": [1, 448], "nice": false}},
        "text": {"field": "label"}
      }
    },
    {
      "data": {"name": "blackBox"},
      "mark": {"type": "rect", "fill": "black", "stroke": "#8fa3a8", "strokeWidth": 5, "clip": false},
      "encoding": {
        "x": {"field": "time", "type": "quantitative", "scale": {"domain": [0, 1200], "nice": false, "zero": false}},
        "x2": {"field": "time2"},
        "y": {"field": "conc", "type": "quantitative", "scale": {"type": "log", "domain": [1, 448], "nice": false}},
        "y2": {"field": "conc2"}
      }
    }
  ]
}
